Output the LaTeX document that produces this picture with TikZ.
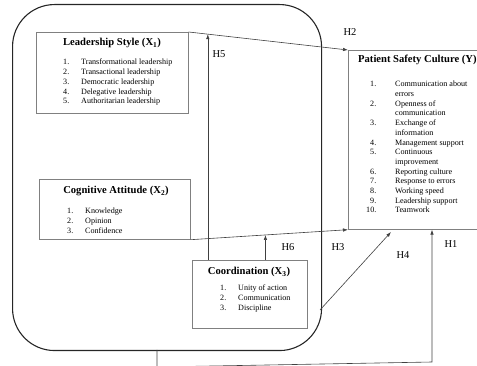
\documentclass[tikz,border=0pt]{standalone}
\usepackage{fontspec}
\setmainfont{Liberation Serif}
\usetikzlibrary{arrows.meta}

\newcommand{\titlefont}{\fontsize{10.6}{12}\selectfont\bfseries}
\newcommand{\itemfont}{\fontsize{8.1}{9.7}\selectfont}
\newcommand{\num}[2][18pt]{\makebox[#1][l]{#2}}

\tikzset{
  frame/.style={draw=black!85, line width=1.1pt, rounded corners=42pt},
  box/.style={draw=black!50, line width=0.7pt, anchor=north west},
  conn/.style={draw=black!75, line width=0.6pt},
  arr/.style={conn, -{Latex[length=5pt,width=3.5pt]}},
  title/.style={font=\titlefont, inner sep=0pt},
  items/.style={font=\itemfont, align=left, anchor=north west, inner sep=0pt},
  hyp/.style={font=\fontsize{10.5}{12}\selectfont, inner sep=0pt}
}

\begin{document}
\begin{tikzpicture}[x=1pt, y=-1pt]
  \useasboundingbox (0,0) rectangle (477,366);

  % outer frame
  \node[frame, minimum width=309pt, minimum height=346pt, anchor=north west] (frame) at (12,4) {};

  % boxes
  \node[box, minimum width=152pt, minimum height=81pt] (lead) at (36,32) {};
  \node[box, minimum width=151pt, minimum height=60pt] (cog) at (39,179) {};
  \node[box, minimum width=115pt, minimum height=68pt] (coord) at (192,260) {};
  \node[box, minimum width=140pt, minimum height=179pt] (psc) at (348,50) {};

  \node[title] (leadT) at (112,43) {Leadership Style (X\textsubscript{1})};
  \node[items] (leadL) at (63,59) {\num{1.}Transformational leadership\\
    \num{2.}Transactional leadership\\ \num{3.}Democratic leadership\\
    \num{4.}Delegative leadership\\ \num{5.}Authoritarian leadership};

  \node[title] (cogT) at (116,191) {Cognitive Attitude (X\textsubscript{2})};
  \node[items] (cogL) at (67,208) {\num{1.}Knowledge\\ \num{2.}Opinion\\ \num{3.}Confidence};

  \node[title] (coordT) at (249,272) {Coordination (X\textsubscript{3})};
  \node[items] (coordL) at (220,285) {\num{1.}Unity of action\\
    \num{2.}Communication\\ \num{3.}Discipline};

  \node[title, anchor=west] (pscT) at (358,60) {Patient Safety Culture (Y)};
  \node[items] (pscL) at (366,81) {\num[29pt]{\hspace{4pt}1.}Communication about\\
    \num[29pt]{}errors\\ \num[29pt]{\hspace{4pt}2.}Openness of\\
    \num[29pt]{}communication\\ \num[29pt]{\hspace{4pt}3.}Exchange of\\
    \num[29pt]{}information\\ \num[29pt]{\hspace{4pt}4.}Management support\\
    \num[29pt]{\hspace{4pt}5.}Continuous\\ \num[29pt]{}improvement\\
    \num[29pt]{\hspace{4pt}6.}Reporting culture\\ \num[29pt]{\hspace{4pt}7.}Response to errors\\
    \num[29pt]{\hspace{4pt}8.}Working speed\\ \num[29pt]{\hspace{4pt}9.}Leadership support\\
    \num[29pt]{10.}Teamwork};

  % hypotheses
  \draw[arr] (lead.north east) -- (psc.north west) coordinate[pos=0.12] (h5);
  \draw[arr] (cog.south east) -- (psc.south west) coordinate[pos=0.475] (h6);
  \draw[arr] (h5 |- coord.north) -- (h5);
  \draw[arr] (h6 |- coord.north) -- (h6);

  \coordinate (h4a) at (320,310);
  \coordinate (h4b) at (391,232);
  \draw[arr] (h4a) -- (h4b);

  \coordinate (h1a) at (157,350);
  \coordinate (h1b) at (157,367);
  \coordinate (h1c) at (432,362);
  \draw[arr] (h1a) -- (h1b) -- (h1c) -- (h1c |- psc.south);

  \node[hyp] (H1) at (451,244) {H1};
  \node[hyp] (H2) at (350,32) {H2};
  \node[hyp] (H3) at (338,247) {H3};
  \node[hyp] (H4) at (403,255) {H4};
  \node[hyp] (H5) at (219,54) {H5};
  \node[hyp] (H6) at (288,247) {H6};
\end{tikzpicture}
\end{document}
